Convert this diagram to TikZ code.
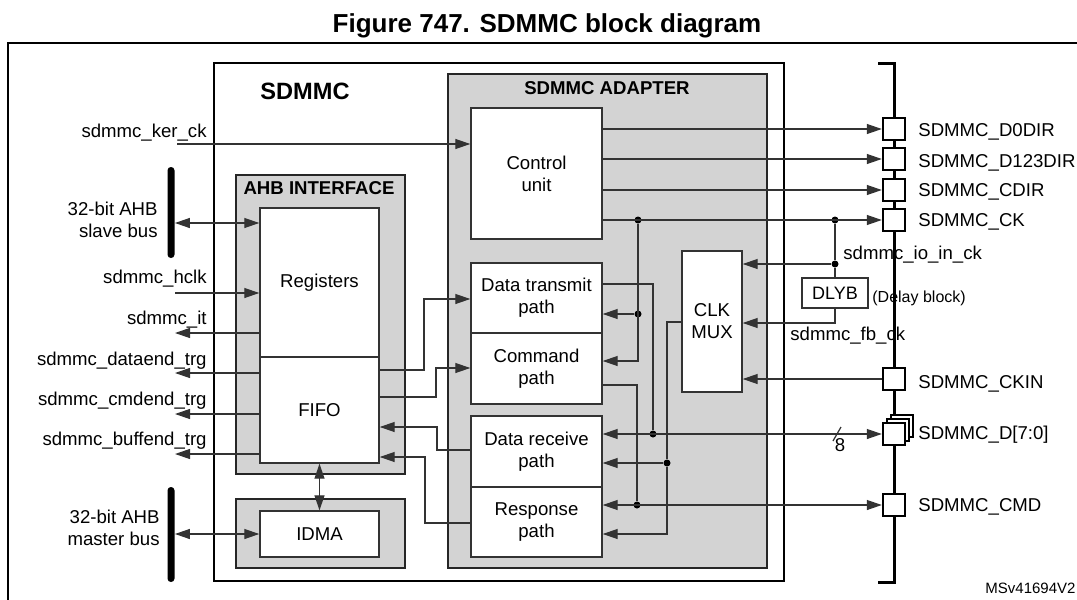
\documentclass[tikz,border=0pt]{standalone}
\usepackage{fontspec}
\setmainfont{Liberation Sans}
\usepackage{tikz}
\usetikzlibrary{arrows.meta, positioning, shadows}
\definecolor{blockgray}{RGB}{211,211,211}
\definecolor{wiregray}{RGB}{51,51,51}

\begin{document}
\begin{tikzpicture}
  [
    x=0.5pt, y=-0.5pt,
    inner sep=0pt,
    font=\fontsize{9.3}{11}\selectfont,
    >={Triangle[length=7.5pt, width=5pt]},
    Wire/.style={draw=wiregray, line width=0.6pt},
    Outer/.style={rectangle, draw=black, line width=1pt, fill=white, inner sep=0pt},
    Gray/.style={rectangle, draw=black!85, line width=1pt, fill=blockgray, inner sep=0pt},
    Block/.style={rectangle, draw=wiregray, line width=0.7pt, fill=white, inner sep=0pt, align=center},
    Pad/.style={rectangle, draw=black, line width=1.2pt, fill=white, minimum size=11pt, inner sep=0pt},
    Dot/.style={circle, fill=black, minimum size=3.5pt, inner sep=0pt},
    Bus/.style={rectangle, rounded corners=1.7pt, fill=black, minimum width=3.5pt, inner sep=0pt},
    Bold/.style={font=\fontsize{9.3}{11}\selectfont\bfseries}
  ]
  \useasboundingbox (0,0) rectangle (1077,600);
  % Frame
  \node[font=\fontsize{13}{15}\selectfont\bfseries, anchor=base] (title) at (547,32) {Figure 747. SDMMC block diagram};
  \path [draw, line width=1pt] (8,600) |- (1077,43);
  % Nodes
  \node[Outer, minimum width=285pt, minimum height=259pt] (sdmmc) at (499,322) {};
  \node[font=\fontsize{11.8}{14}\selectfont\bfseries, anchor=base] (sdmmcL) at (305,99) {SDMMC};
  \node[Gray, minimum width=159.5pt, minimum height=247pt] (adapter) at (607.5,321) {};
  \node[Bold, anchor=base] (adapterL) at (607,94) {SDMMC ADAPTER};
  \node[Gray, minimum width=84.5pt, minimum height=149.5pt] (ahb) at (320.5,324.5) {};
  \node[Bold, anchor=base] (ahbL) at (319,194) {AHB INTERFACE};
  \node[Gray, minimum width=84.5pt, minimum height=34.5pt] (dma) at (320.5,533.5) {};
  \node[Block, minimum width=59.5pt, minimum height=74.5pt] (reg) at (319.5,282.5) {Registers};
  \node[Block, minimum width=59.5pt, minimum height=53pt] (fifo) at (319.5,410) {FIFO};
  \node[Block, minimum width=59.5pt, minimum height=23pt] (idma) at (319.5,534) {IDMA};
  \node[Block, minimum width=65.5pt, minimum height=65.5pt] (ctrl) at (536.5,173.5) {Control\\unit};
  \node[Block, minimum width=65.5pt, minimum height=35pt] (dtx) at (536.5,298) {Data transmit\\path};
  \node[Block, minimum width=65.5pt, minimum height=35.5pt] (cmd) at (536.5,368.5) {Command\\path};
  \node[Block, minimum width=65.5pt, minimum height=35.5pt] (drx) at (536.5,451.5) {Data receive\\path};
  \node[Block, minimum width=65.5pt, minimum height=35pt] (rsp) at (536.5,522) {Response\\path};
  \node[Block, minimum width=30pt, minimum height=70.5pt] (mux) at (712,321.5) {CLK\\MUX};
  \node[Block, font=\fontsize{9}{11}\selectfont, minimum width=33pt, minimum height=15pt] (dlyb) at (835,293) {DLYB};
  \node[font=\fontsize{8}{10}\selectfont, anchor=base west] (dlybL) at (872,302) {(Delay block)};
  % Buses
  \node[Bus, minimum height=45.5pt] (sbus) at (171,212.5) {};
  \node[Bus, minimum height=47.5pt] (mbus) at (171,534.5) {};
  \node[align=right, anchor=east] (sbusL) at (158,220) {32-bit AHB\\slave bus};
  \node[align=right, anchor=east] (mbusL) at (160,528) {32-bit AHB\\master bus};
  % Left signals
  \node[anchor=base east] (kerckL) at (207,137) {sdmmc\_ker\_ck};
  \node[anchor=base east] (hclkL) at (207,283) {sdmmc\_hclk};
  \node[anchor=base east] (itL) at (207,324) {sdmmc\_it};
  \node[anchor=base east] (dataendL) at (207,365) {sdmmc\_dataend\_trg};
  \node[anchor=base east] (cmdendL) at (207,405) {sdmmc\_cmdend\_trg};
  \node[anchor=base east] (buffendL) at (207,445) {sdmmc\_buffend\_trg};
  \coordinate (kerck) at (177,144);
  \coordinate (hclk) at (175,293);
  \coordinate (it) at (175,333);
  \coordinate (dataend) at (175,373);
  \coordinate (cmdend) at (175,414);
  \coordinate (buffend) at (175,454);
  % Lines
  \path [->, draw, Wire] (kerck) -- (kerck -| ctrl.west);
  \path [<->, draw, Wire] (sbus.east |- 0,223) -- (reg.west |- 0,223);
  \path [->, draw, Wire] (hclk) -- (hclk -| reg.west);
  \path [<-, draw, Wire] (it) -- (it -| reg.west);
  \path [<-, draw, Wire] (dataend) -- (dataend -| fifo.west);
  \path [<-, draw, Wire] (cmdend) -- (cmdend -| fifo.west);
  \path [<-, draw, Wire] (buffend) -- (buffend -| fifo.west);
  \path [<->, draw, Wire] (mbus.east |- 0,534) -- (idma.west |- 0,534);
  \path [<->, draw, Wire] (fifo.south) -- (idma.north);
  \path [->, draw, Wire] (fifo.east |- 0,370) -| (424,299) -- (dtx.west |- 0,299);
  \path [->, draw, Wire] (fifo.east |- 0,397) -| (436,368) -- (cmd.west |- 0,368);
  \path [->, draw, Wire] (drx.west |- 0,450) -| (437,427) -- (fifo.east |- 0,427);
  \path [->, draw, Wire] (rsp.west |- 0,523) -| (425,457) -- (fifo.east |- 0,457);
  % Pads
  \path [draw, line width=1.5pt] (878,63) -| (894,582) -- (878,582);
  \node[Pad] (pD0) at (894,129) {};
  \node[Pad] (pD123) at (894,159) {};
  \node[Pad] (pCdir) at (894,190) {};
  \node[Pad] (pCk) at (894,220) {};
  \node[Pad] (pCkin) at (894,379) {};
  \node[Pad, double copy shadow={shadow xshift=2pt, shadow yshift=2pt}] (pD) at (894,434) {};
  \node[Pad] (pCmd) at (894,505) {};
  \node[anchor=base west] (pD0L) at (918,136) {SDMMC\_D0DIR};
  \node[anchor=base west] (pD123L) at (918,167) {SDMMC\_D123DIR};
  \node[anchor=base west] (pCdirL) at (918,196) {SDMMC\_CDIR};
  \node[anchor=base west] (pCkL) at (918,226) {SDMMC\_CK};
  \node[anchor=base west] (pCkinL) at (918,388) {SDMMC\_CKIN};
  \node[anchor=base west] (pDL) at (918,439) {SDMMC\_D[7:0]};
  \node[anchor=base west] (pCmdL) at (918,511) {SDMMC\_CMD};
  \node[anchor=base west] (ioinL) at (843,259) {sdmmc\_io\_in\_ck};
  \node[anchor=base west] (fbL) at (790,340) {sdmmc\_fb\_ck};
  % Clock and data lines
  \node[Dot] (ckA) at (638,220) {};
  \node[Dot] (ckB) at (835,220) {};
  \node[Dot] (ckC) at (835,264) {};
  \node[Dot] (ckD) at (638,314) {};
  \node[Dot] (muxA) at (667,463) {};
  \node[Dot] (dA) at (653,434) {};
  \node[Dot] (cA) at (637,505) {};
  \path [->, draw, Wire] (ctrl.east |- pD0) -- (pD0.west);
  \path [->, draw, Wire] (ctrl.east |- pD123) -- (pD123.west);
  \path [->, draw, Wire] (ctrl.east |- pCdir) -- (pCdir.west);
  \path [->, draw, Wire] (ctrl.east |- pCk) -- (pCk.west);
  \path [draw, Wire] (ckB) -- (ckC) -- (dlyb.north);
  \path [->, draw, Wire] (ckC) -- (ckC -| mux.east);
  \path [->, draw, Wire] (dlyb.south) |- (mux.east |- 0,323);
  \path [->, draw, Wire] (ckA) |- (cmd.east |- 0,361);
  \path [->, draw, Wire] (ckD) -- (ckD -| dtx.east);
  \path [->, draw, Wire] (pCkin.west) -- (pCkin.west -| mux.east);
  \path [->, draw, Wire] (mux.west |- 0,322) -| (muxA) |- (rsp.east |- 0,534);
  \path [->, draw, Wire] (muxA) -- (muxA -| drx.east);
  \path [draw, Wire] (dtx.east |- 0,284) -| (dA);
  \path [<->, draw, Wire] (drx.east |- pD) -- (pD.west);
  \path [draw, Wire] (833,441) -- (841,427);
  \node[anchor=base] (eight) at (840,451) {8};
  \path [draw, Wire] (cmd.east |- 0,385) -| (cA);
  \path [<->, draw, Wire] (rsp.east |- pCmd) -- (pCmd.west);
  \node[font=\fontsize{7.5}{9}\selectfont, anchor=base west] (code) at (985,593) {MSv41694V2};
\end{tikzpicture}
\end{document}
